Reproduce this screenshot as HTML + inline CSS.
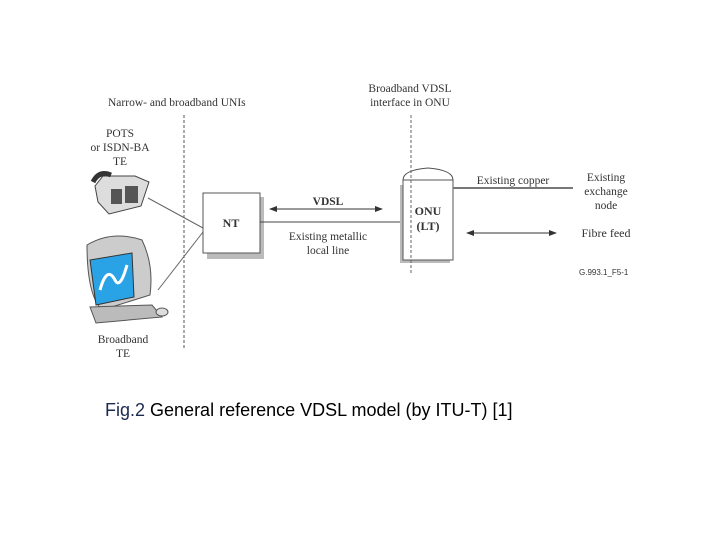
<!DOCTYPE html>
<html><head><style>
body{margin:0;background:#fff;}
svg text{font-family:"Liberation Serif",serif;fill:#333;}
</style></head><body>
<svg width="720" height="540" viewBox="0 0 720 540" xmlns="http://www.w3.org/2000/svg">
<defs><marker id="a" markerWidth="8" markerHeight="6" refX="7" refY="3" orient="auto"><path d="M0,0 L8,3 L0,6 z" fill="#333"/></marker>
<marker id="b" markerWidth="8" markerHeight="6" refX="1" refY="3" orient="auto"><path d="M8,0 L0,3 L8,6 z" fill="#333"/></marker></defs>
<text x="108" y="106" font-size="11.5">Narrow- and broadband UNIs</text>
<line x1="184" y1="115" x2="184" y2="350" stroke="#555" stroke-dasharray="3,2"/>
<text x="120" y="137" font-size="11.5" text-anchor="middle">POTS</text>
<text x="120" y="151" font-size="11.5" text-anchor="middle">or ISDN-BA</text>
<text x="120" y="165" font-size="11.5" text-anchor="middle">TE</text>
<!-- phone -->
<g transform="translate(93,172)">
<path d="M2,14 L10,4 L42,4 L56,10 L48,34 L16,42 L5,30 z" fill="#ddd" stroke="#444"/>
<rect x="18" y="17" width="11" height="15" fill="#555"/><rect x="32" y="14" width="13" height="17" fill="#555"/>
<path d="M0,10 Q6,-2 18,3" stroke="#333" stroke-width="5" fill="none"/>
</g>
<!-- computer -->
<g transform="translate(82,235)">
<path d="M5,10 Q30,-5 60,5 Q72,30 68,60 L20,75 Q5,60 5,10z" fill="#ccc" stroke="#555"/>
<path d="M8,25 L50,18 L52,62 L14,70 z" fill="#29a3e6" stroke="#333"/>
<path d="M18,55 Q25,30 33,45 Q38,55 45,30" stroke="#fff" stroke-width="3" fill="none"/>
<path d="M8,72 L70,70 L80,82 L14,88 z" fill="#bbb" stroke="#555"/>
<ellipse cx="80" cy="77" rx="6" ry="4" fill="#ddd" stroke="#555"/>
</g>
<text x="123" y="343" font-size="11.5" text-anchor="middle">Broadband</text>
<text x="123" y="357" font-size="11.5" text-anchor="middle">TE</text>
<line x1="148" y1="198" x2="203" y2="228" stroke="#666"/>
<line x1="158" y1="290" x2="203" y2="232" stroke="#666"/>
<!-- NT -->
<rect x="207" y="197" width="57" height="62" fill="#bbb"/>
<rect x="203" y="193" width="57" height="60" fill="#fff" stroke="#555"/>
<text x="231" y="227" font-size="12" font-weight="bold" text-anchor="middle">NT</text>
<text x="328" y="205" font-size="11.5" font-weight="bold" text-anchor="middle">VDSL</text>
<line x1="270" y1="209" x2="382" y2="209" stroke="#333" marker-start="url(#b)" marker-end="url(#a)"/>
<line x1="260" y1="222" x2="403" y2="222" stroke="#444"/>
<text x="328" y="240" font-size="11.5" text-anchor="middle">Existing metallic</text>
<text x="328" y="254" font-size="11.5" text-anchor="middle">local line</text>
<!-- ONU -->
<text x="410" y="92" font-size="11.5" text-anchor="middle">Broadband  VDSL</text>
<text x="410" y="106" font-size="11.5" text-anchor="middle">interface in ONU</text>
<rect x="400" y="185" width="50" height="78" fill="#bbb"/>
<path d="M403,180 Q403,170 428,168 Q453,170 453,180 z" fill="#fff" stroke="#555"/>
<rect x="403" y="180" width="50" height="80" fill="#fff" stroke="#555"/>
<line x1="411" y1="115" x2="411" y2="275" stroke="#666" stroke-dasharray="3,2"/>
<text x="428" y="215" font-size="12" font-weight="bold" text-anchor="middle">ONU</text>
<text x="428" y="230" font-size="12" font-weight="bold" text-anchor="middle">(LT)</text>
<line x1="453" y1="188" x2="573" y2="188" stroke="#777" stroke-width="2"/>
<text x="513" y="184" font-size="11.5" text-anchor="middle">Existing copper</text>
<text x="606" y="181" font-size="11.5" text-anchor="middle">Existing</text>
<text x="606" y="195" font-size="11.5" text-anchor="middle">exchange</text>
<text x="606" y="209" font-size="11.5" text-anchor="middle">node</text>
<line x1="467" y1="233" x2="556" y2="233" stroke="#333" marker-start="url(#b)" marker-end="url(#a)"/>
<text x="606" y="237" font-size="12" text-anchor="middle">Fibre feed</text>
<text x="579" y="275" font-size="8" style="font-family:'Liberation Sans',sans-serif" fill="#555">G.993.1_F5-1</text>
<text x="105" y="416" font-size="18" style="font-family:'Liberation Sans',sans-serif;fill:#000"><tspan fill="#1a2a50">Fig.2</tspan> General reference VDSL model (by ITU-T) [1]</text>
</svg>
</body></html>
